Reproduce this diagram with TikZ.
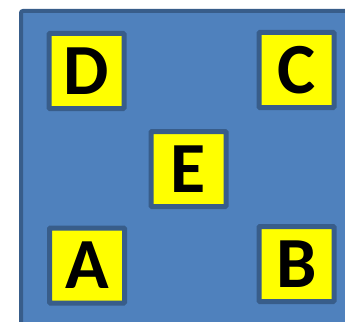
\documentclass[tikz,border=0pt]{standalone}
\usepackage{fontspec}
\setmainfont{Carlito}
\definecolor{panelblue}{HTML}{4F81BD}
\definecolor{edgeblue}{HTML}{385D8A}
\definecolor{boxyellow}{HTML}{FFFF00}
\begin{document}
\begin{tikzpicture}[x=1pt,y=-1pt,
  letterbox/.style={draw=edgeblue, line width=5pt, fill=boxyellow, minimum width=75pt, minimum height=75pt, inner sep=0pt, rounded corners=1pt, font=\fontsize{72}{72}\selectfont\bfseries, text=black}]
\useasboundingbox (0,0) rectangle (345,321);
\fill[white] (0,0) rectangle (345,321);
\begin{scope}
\clip (0,0) rectangle (345,321);
\draw[draw=edgeblue, line width=4pt, fill=panelblue, rounded corners=2pt] (21,11) rectangle (370,340);
\end{scope}
\node[letterbox] (D) at (86.5,71) {D};
\node[letterbox] (C) at (296.5,70) {C};
\node[letterbox] (E) at (188.5,169) {E};
\node[letterbox] (A) at (87,265.5) {A};
\node[letterbox] (B) at (296.5,264) {B};
\end{tikzpicture}
\end{document}
